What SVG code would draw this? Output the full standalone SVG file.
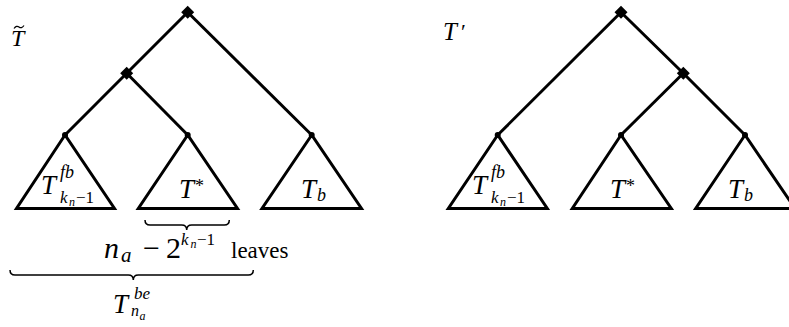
<svg xmlns="http://www.w3.org/2000/svg" width="789" height="327" viewBox="0 0 789 327">
<style>
.e{stroke:#000;stroke-width:3;fill:none;stroke-linejoin:miter}
.tri{stroke:#000;stroke-width:3;fill:#fff;stroke-linejoin:miter}
.br{stroke:#000;stroke-width:1.5;fill:none}
.m{font-family:'Liberation Serif','Times New Roman',serif;font-style:italic;fill:#000}
.r{font-family:'Liberation Serif','Times New Roman',serif;fill:#000}
.big{font-size:27px}
.sm{font-size:18px}
.s2{font-size:17px}
.xs{font-size:12px}
</style>
<defs>
<path id="dia" d="M0,-6.5 L6.5,0 L0,6.5 L-6.5,0 Z" fill="#000"/>
</defs>
<g id="connectors">
<path class="e" d="M187.7,12.3 L126.7,73.3 L65,135"/>
<path class="e" d="M126.7,73.3 L187.7,135"/>
<path class="e" d="M187.7,12.3 L311.7,135"/>
<path class="e" d="M621,12.3 L497.7,135"/>
<path class="e" d="M621,12.3 L683.3,73.3 L745,135"/>
<path class="e" d="M683.3,73.3 L621,135"/>
</g>
<g id="label-Ttilde">
<text class="m" font-size="24" x="11" y="45.5">T</text>
<path d="M14,28.5 q2.5,-3.5 5,-1.5 q2.5,2 5,-1.5" stroke="#000" stroke-width="1.2" fill="none"/>
</g>
<g id="label-Tprime">
<text class="m" font-size="25" x="443" y="40">T</text>
<text class="r" font-size="22" x="461" y="39">′</text>
</g>
<g id="root-left"><use href="#dia" x="187.7" y="12.3"/></g>
<g id="inner-left"><use href="#dia" x="126.7" y="73.3"/></g>
<g id="root-right"><use href="#dia" x="621" y="12.3"/></g>
<g id="inner-right"><use href="#dia" x="683.3" y="73.3"/></g>
<g id="tfb-left">
<polygon class="tri" points="65,135 16.5,208.5 114.5,208.5"/>
<circle cx="65" cy="135" r="3" fill="#000"/>
<text class="m big" x="41" y="194">T</text>
<text class="m sm" x="60" y="178">fb</text>
<text class="m s2" x="60" y="203">k</text>
<text class="m xs" x="69" y="206">n</text>
<text class="r s2" x="76" y="203">−1</text>
</g>
<g id="tstar-left">
<polygon class="tri" points="187.7,135 138.3,208.5 237.5,208.5"/>
<circle cx="187.7" cy="135" r="3" fill="#000"/>
<text class="m big" x="179" y="198">T</text>
<text class="r sm" x="195" y="192">*</text>
</g>
<g id="tb-left">
<polygon class="tri" points="311.7,135 262,208.5 361.5,208.5"/>
<circle cx="311.7" cy="135" r="3" fill="#000"/>
<text class="m big" x="301" y="198">T</text>
<text class="m sm" x="317" y="201">b</text>
</g>
<g id="tfb-right">
<polygon class="tri" points="497.7,135 448.3,208.5 547.3,208.5"/>
<circle cx="497.7" cy="135" r="3" fill="#000"/>
<text class="m big" x="472" y="194">T</text>
<text class="m sm" x="491" y="178">fb</text>
<text class="m s2" x="491" y="203">k</text>
<text class="m xs" x="500" y="206">n</text>
<text class="r s2" x="507" y="203">−1</text>
</g>
<g id="tstar-right">
<polygon class="tri" points="621,135 572.3,208.5 671.3,208.5"/>
<circle cx="621" cy="135" r="3" fill="#000"/>
<text class="m big" x="610" y="198">T</text>
<text class="r sm" x="626" y="192">*</text>
</g>
<g id="tb-right">
<polygon class="tri" points="745,135 695.7,208.5 795,208.5"/>
<circle cx="745" cy="135" r="3" fill="#000"/>
<text class="m big" x="728" y="198">T</text>
<text class="m sm" x="744" y="201">b</text>
</g>
<g id="brace-small">
<path class="br" d="M145,220 q0,5 5,5 L181.7,225 q5,0 5,5 q0,-5 5,-5 L224.3,225 q5,0 5,-5"/>
<text class="m" font-size="30" x="104" y="258">n</text>
<text class="m" font-size="21" x="121" y="261.5">a</text>
<text class="r" font-size="30" x="143" y="258">−</text>
<text class="r" font-size="30" x="166" y="258">2</text>
<text class="m s2" x="181" y="245">k</text>
<text class="m xs" x="190.5" y="248">n</text>
<text class="r s2" x="197" y="245">−1</text>
<text class="r" font-size="23" x="231" y="258">leaves</text>
</g>
<g id="brace-big">
<path class="br" d="M10,270 q0,5 5,5 L128.3,275 q5,0 5,5 q0,-5 5,-5 L248.3,275 q5,0 5,-5"/>
<text class="m big" x="113" y="313">T</text>
<text class="m" font-size="17" x="134" y="299">be</text>
<text class="m" font-size="16" x="131" y="316">n</text>
<text class="m xs" x="139.5" y="320">a</text>
</g>
</svg>
